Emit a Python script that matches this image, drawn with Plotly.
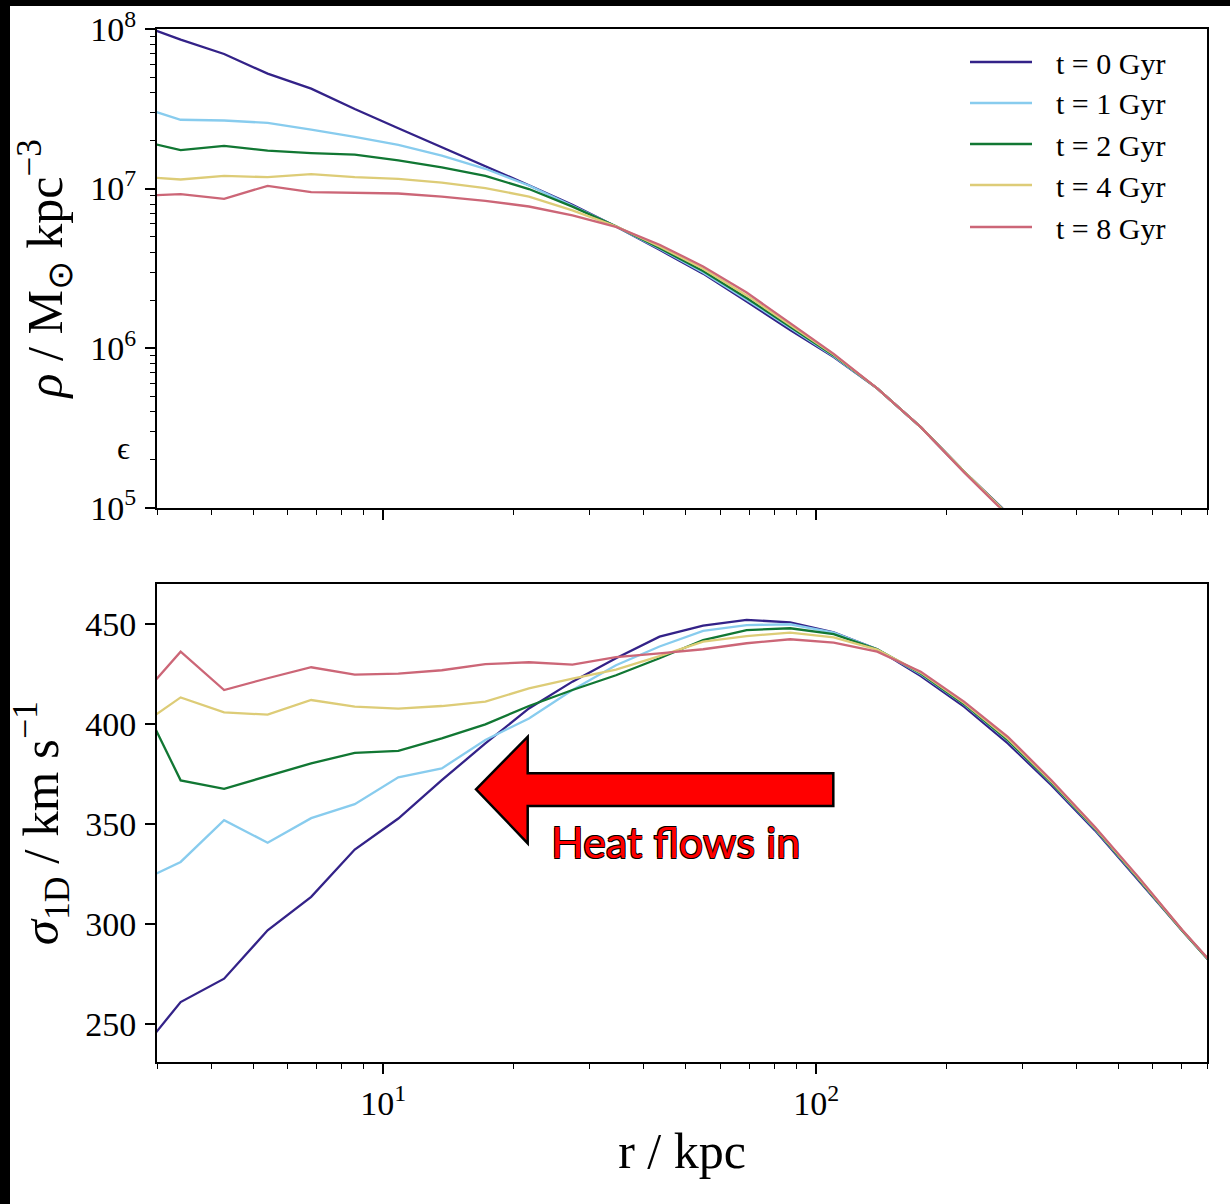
import plotly.graph_objects as go

# ---------------- data ----------------
r_kpc = [2.698, 3.402, 4.287, 5.404, 6.813, 8.590, 10.83, 13.65, 17.21, 21.70,
         27.35, 34.48, 43.47, 54.81, 69.10, 87.10, 109.8, 138.4, 174.5, 220.0,
         277.3, 349.6, 440.8, 555.7, 700.6, 883.2]

labels = ["t = 0 Gyr", "t = 1 Gyr", "t = 2 Gyr", "t = 4 Gyr", "t = 8 Gyr"]
colors = ["#332288", "#88CCEE", "#117733", "#DDCC77", "#CC6677"]

rho_t0 = [1.08e8, 8.57e7, 6.97e7, 5.25e7, 4.23e7, 3.15e7, 2.39e7, 1.82e7, 1.38e7, 1.05e7,
          7.9e6, 5.78e6, 4.13e6, 2.93e6, 1.96e6, 1.30e6, 8.8e5, 5.6e5, 3.2e5, 1.68e5, 9.2e4, 4.9e4]
rho_t1 = [3.30e7, 2.70e7, 2.67e7, 2.58e7, 2.34e7, 2.11e7, 1.88e7, 1.61e7, 1.33e7, 1.045e7,
          7.8e6, 5.78e6, 4.20e6, 2.98e6, 2.01e6, 1.335e6, 8.9e5, 5.6e5, 3.2e5, 1.68e5, 9.2e4, 4.9e4]
rho_t2 = [2.02e7, 1.74e7, 1.85e7, 1.73e7, 1.67e7, 1.63e7, 1.50e7, 1.36e7, 1.20e7, 9.93e6,
          7.7e6, 5.8e6, 4.24e6, 3.04e6, 2.06e6, 1.36e6, 9.0e5, 5.6e5, 3.2e5, 1.68e5, 9.2e4, 4.9e4]
rho_t4 = [1.19e7, 1.14e7, 1.20e7, 1.18e7, 1.23e7, 1.18e7, 1.15e7, 1.09e7, 1.007e7, 8.91e6,
          7.3e6, 5.8e6, 4.34e6, 3.14e6, 2.14e6, 1.40e6, 9.1e5, 5.6e5, 3.2e5, 1.68e5, 9.2e4, 4.9e4]
rho_t8 = [9.0e6, 9.24e6, 8.63e6, 1.04e7, 9.51e6, 9.46e6, 9.31e6, 8.91e6, 8.38e6, 7.72e6,
          6.8e6, 5.75e6, 4.45e6, 3.25e6, 2.23e6, 1.435e6, 9.2e5, 5.6e5, 3.2e5, 1.66e5, 9.0e4, 4.8e4]

sig_t0 = [234.1, 261.0, 272.7, 296.9, 313.6, 337.3, 352.8, 372.0, 390.4, 407.9, 421.3, 433.0,
          443.8, 449.3, 452.2, 451.0, 446.0, 437.5, 424.1, 408.7, 390.4, 369.5, 346.9, 321.9, 296.8, 272.5]
sig_t1 = [320.7, 331.1, 352.0, 340.7, 353.0, 360.0, 373.4, 377.9, 392.1, 402.9, 417.1, 429.5,
          438.9, 446.7, 449.6, 450.0, 445.8, 437.5, 425.0, 409.8, 391.8, 370.5, 347.6, 322.5, 296.8, 272.5]
sig_t2 = [416.5, 371.9, 367.7, 374.2, 380.4, 385.7, 386.7, 392.9, 399.9, 409.1, 417.1, 424.5,
          433.0, 442.1, 447.1, 448.0, 445.1, 437.5, 425.4, 410.0, 392.0, 370.7, 347.8, 322.7, 296.8, 272.5]
sig_t4 = [398.2, 413.4, 405.9, 404.8, 412.1, 408.8, 407.8, 409.1, 411.3, 417.9, 422.8, 427.3,
          434.1, 441.3, 444.1, 445.8, 443.5, 437.3, 425.8, 410.6, 392.8, 371.3, 348.2, 323.1, 297.0, 272.7]
sig_t8 = [411.6, 436.3, 417.1, 423.0, 428.5, 424.8, 425.3, 427.0, 430.1, 431.0, 429.8, 433.6,
          435.4, 437.5, 440.5, 442.5, 440.8, 436.3, 426.3, 411.2, 393.7, 372.0, 348.6, 323.5, 297.2, 272.9]

rho_series = [rho_t0, rho_t1, rho_t2, rho_t4, rho_t8]
sig_series = [sig_t0, sig_t1, sig_t2, sig_t4, sig_t8]

x_major = [10, 100]
x_major_text = ["10<sup>1</sup>", "10<sup>2</sup>"]
x_minor = [3, 4, 5, 6, 7, 8, 9, 20, 30, 40, 50, 60, 70, 80, 90,
           200, 300, 400, 500, 600, 700, 800]
rho_major = [1e5, 1e6, 1e7, 1e8]
rho_major_text = ["10<sup>5</sup>", "10<sup>6</sup>", "10<sup>7</sup>", "10<sup>8</sup>"]
rho_minor = [m * 10 ** e for e in (5, 6, 7) for m in range(2, 10)]
sig_ticks = [250, 300, 350, 400, 450]

# ---------------- layout geometry ----------------
W, H = 1230, 1204
ML, MR, MT, MB = 157, 23, 29, 142
PW, PH = W - ML - MR, H - MT - MB


def px(x):
    return (x - ML) / PW


def py(y):
    return (H - MB - y) / PH


SERIF = "Liberation Serif"
NB = "\u00a0"
fig = go.Figure()

for lab, col, rho in zip(labels, colors, rho_series):
    fig.add_trace(go.Scatter(x=r_kpc[:len(rho)], y=rho, mode="lines", name=lab,
                             line=dict(color=col, width=2.3), xaxis="x", yaxis="y",
                             showlegend=False))
for lab, col, sig in zip(labels, colors, sig_series):
    fig.add_trace(go.Scatter(x=r_kpc[:len(sig)], y=sig, mode="lines", name=lab,
                             line=dict(color=col, width=2.3), xaxis="x2", yaxis="y2",
                             showlegend=False))

axis_common = dict(showgrid=False, zeroline=False, showline=True, linecolor="black",
                   linewidth=2, mirror=True, ticks="outside", tickcolor="black",
                   ticklen=10, tickwidth=1.6, automargin=False,
                   tickfont=dict(family=SERIF, size=34, color="black"))
xr = [0.47712, 2.90309]
top_dom = [py(507.7), 1.0]
bot_dom = [0.0, py(584.3)]

rho_title = f"<i>ρ</i>{NB}/{NB}M<sub>⊙</sub>{NB}kpc<sup>−3</sup>"
sig_title = f"<i>σ</i><sub>1D</sub>{NB}/{NB}km{NB}s<sup>−1</sup>"

fig.update_layout(
    width=W, height=H, margin=dict(l=ML, r=MR, t=MT, b=MB, autoexpand=False),
    paper_bgcolor="white", plot_bgcolor="white",
    xaxis=dict(axis_common, type="log", range=xr, domain=[0, 1], anchor="y",
               tickvals=x_major, showticklabels=False,
               minor=dict(tickvals=x_minor, ticks="outside", ticklen=5, tickwidth=1.3,
                          tickcolor="black")),
    yaxis=dict(axis_common, type="log", range=[5, 8], domain=top_dom, anchor="x",
               tickvals=rho_major, ticktext=rho_major_text, ticklabelstandoff=2,
               minor=dict(tickvals=rho_minor, ticks="outside", ticklen=5, tickwidth=1.3,
                          tickcolor="black"),
               title=dict(text=rho_title,
                          font=dict(family=SERIF, size=50, color="black"), standoff=12)),
    xaxis2=dict(axis_common, type="log", range=xr, domain=[0, 1], anchor="y2",
                tickvals=x_major, ticktext=x_major_text,
                minor=dict(tickvals=x_minor, ticks="outside", ticklen=5, tickwidth=1.3,
                           tickcolor="black"),
                title=dict(text="r / kpc", font=dict(family=SERIF, size=50, color="black"),
                           standoff=12)),
    yaxis2=dict(axis_common, range=[231, 470], domain=bot_dom, anchor="x2",
                tickvals=sig_ticks, ticklabelstandoff=2,
                title=dict(text=sig_title,
                           font=dict(family=SERIF, size=51, color="black"), standoff=10)),
)

shapes = []
annotations = []
# black frame strips of the original picture
shapes.append(dict(type="rect", xref="paper", yref="paper", x0=px(0), x1=px(10),
                   y0=py(H), y1=py(0), fillcolor="black", line=dict(width=0), layer="above"))
shapes.append(dict(type="rect", xref="paper", yref="paper", x0=px(0), x1=px(W),
                   y0=py(6), y1=py(0), fillcolor="black", line=dict(width=0), layer="above"))

# manual legend
leg_rows = [62, 103, 144, 185, 227]
for lab, col, yy in zip(labels, colors, leg_rows):
    shapes.append(dict(type="line", xref="paper", yref="paper", x0=px(970), x1=px(1032),
                       y0=py(yy), y1=py(yy), line=dict(color=col, width=2.6)))
    annotations.append(dict(text=lab.replace(" ", NB), xref="paper", yref="paper",
                            x=px(1054), y=py(yy + 1),
                            xanchor="left", yanchor="middle", showarrow=False,
                            font=dict(family=SERIF, size=30, color="black")))

# red block arrow
pts = [(476, 789.3), (527.7, 736.7), (527.7, 773.3), (833.3, 773.3), (833.3, 806),
       (527.7, 806), (527.7, 843.3)]
path = "M " + " L ".join(f"{px(a):.5f},{py(b):.5f}" for a, b in pts) + " Z"
shapes.append(dict(type="path", xref="paper", yref="paper", path=path,
                   fillcolor="#ff0000", line=dict(color="black", width=2.5), layer="above"))

annotations.append(dict(text="Heat flows in", xref="paper", yref="paper", x=px(549), y=py(841),
                        xanchor="left", yanchor="middle", showarrow=False,
                        font=dict(family="Lato", size=43, color="#ff0000",
                                  shadow="-0.8px -0.8px 0 #000, 0.8px -0.8px 0 #000, -0.8px 0.8px 0 #000, 0.8px 0.8px 0 #000")))

annotations.append(dict(text="ϵ", xref="paper", yref="paper", x=px(123), y=py(448),
                        xanchor="center", yanchor="middle", showarrow=False,
                        font=dict(family=SERIF, size=32, color="black")))

fig.update_layout(shapes=shapes, annotations=annotations)
fig.write_html("out.html")
